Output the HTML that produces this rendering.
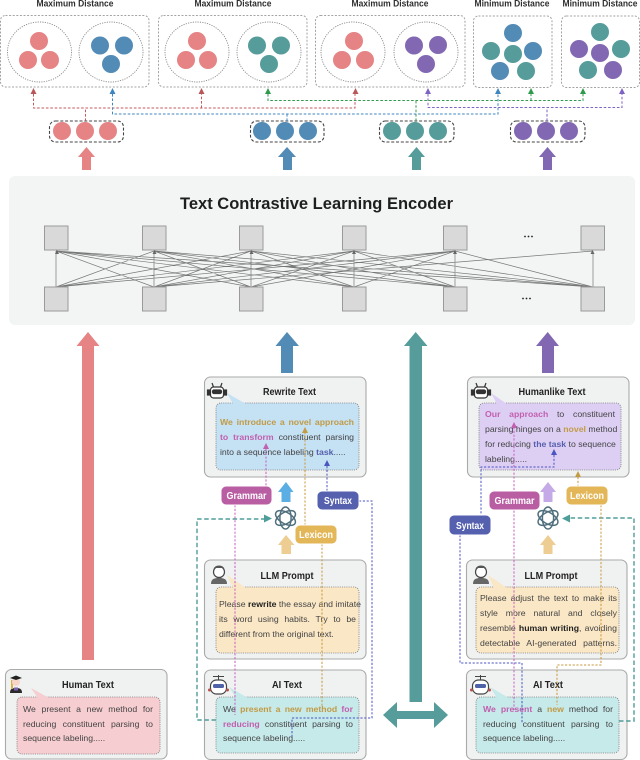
<!DOCTYPE html>
<html><head><meta charset="utf-8">
<style>
html,body{margin:0;padding:0;background:#fff}
#p{position:relative;width:640px;height:760px;overflow:hidden;font-family:"Liberation Sans",sans-serif}
svg{position:absolute;left:0;top:0}
svg text{font-family:"Liberation Sans",sans-serif}
.l{position:absolute;font-size:8.7px;line-height:12px;height:12px;color:#444;white-space:nowrap;text-align:justify;text-align-last:justify}
.n{text-align-last:left}
.g{color:#c29b45;font-weight:bold}.k{color:#c25fae;font-weight:bold}.b{color:#5660ad;font-weight:bold}.d{color:#222;font-weight:bold}
</style></head><body><div id="p">
<svg width="640" height="760" viewBox="0 0 640 760">
<g fill="#fff" stroke="#a3a3a3" stroke-width="1" stroke-dasharray="2 1.6">
<rect x="0.5" y="15.5" width="148.5" height="71.5" rx="5"/>
<rect x="158.5" y="15.5" width="148.5" height="71.5" rx="5"/>
<rect x="315.5" y="15.5" width="149.5" height="71.5" rx="5"/>
<rect x="473.5" y="16" width="78.5" height="71.5" rx="5"/>
<rect x="561.5" y="16" width="78" height="71.5" rx="5"/>
</g>
<g fill="none" stroke="#8a8a8a" stroke-width="0.9" stroke-dasharray="1.2 1.2">
<ellipse cx="39.5" cy="52" rx="32" ry="30"/><ellipse cx="111" cy="52" rx="32" ry="30"/>
<ellipse cx="197" cy="52" rx="32" ry="30"/><ellipse cx="269" cy="52" rx="32" ry="30"/>
<ellipse cx="353" cy="52" rx="32" ry="30"/><ellipse cx="426" cy="52" rx="32" ry="30"/>
</g>
<g fill="#e58385">
<circle cx="39" cy="41" r="9"/><circle cx="28" cy="60" r="9"/><circle cx="50" cy="60" r="9"/>
<circle cx="197" cy="41" r="9"/><circle cx="186" cy="60" r="9"/><circle cx="208" cy="60" r="9"/>
<circle cx="354" cy="41" r="9"/><circle cx="342" cy="60" r="9"/><circle cx="365" cy="60" r="9"/>
<circle cx="62" cy="131" r="9"/><circle cx="85" cy="131" r="9"/><circle cx="108" cy="131" r="9"/>
</g>
<g fill="#528bb6">
<circle cx="100" cy="45.5" r="9"/><circle cx="124" cy="45.5" r="9"/><circle cx="111" cy="64" r="9"/>
<circle cx="513" cy="33" r="9"/><circle cx="533" cy="51" r="9"/><circle cx="500" cy="71" r="9"/>
<circle cx="262" cy="131" r="9"/><circle cx="285" cy="131" r="9"/><circle cx="308" cy="131" r="9"/>
</g>
<g fill="#559c9a">
<circle cx="257" cy="45.5" r="9"/><circle cx="281" cy="45.5" r="9"/><circle cx="269" cy="64" r="9"/>
<circle cx="491" cy="51" r="9"/><circle cx="513" cy="54" r="9"/><circle cx="526" cy="71" r="9"/>
<circle cx="600" cy="32" r="9"/><circle cx="621" cy="49" r="9"/><circle cx="588" cy="70" r="9"/>
<circle cx="392" cy="131" r="9"/><circle cx="415" cy="131" r="9"/><circle cx="438" cy="131" r="9"/>
</g>
<g fill="#8268b2">
<circle cx="414" cy="45.5" r="9"/><circle cx="438" cy="45" r="9"/><circle cx="426" cy="64" r="9"/>
<circle cx="579" cy="49" r="9"/><circle cx="600" cy="53" r="9"/><circle cx="613" cy="70" r="9"/>
<circle cx="523" cy="131" r="9"/><circle cx="546" cy="131" r="9"/><circle cx="569" cy="131" r="9"/>
</g>
<g fill="none" stroke="#444" stroke-width="1.1" stroke-dasharray="3 1.8">
<rect x="49.5" y="121" width="74" height="21" rx="6"/>
<rect x="250.5" y="121" width="73.5" height="21" rx="6"/>
<rect x="379.5" y="121" width="74.5" height="21" rx="6"/>
<rect x="510.5" y="121" width="74.5" height="21" rx="6"/>
</g>
<g font-weight="bold" font-size="9" fill="#2e2e2e" text-anchor="middle">
<text x="75" y="6.5" textLength="77" lengthAdjust="spacingAndGlyphs">Maximum Distance</text>
<text x="233" y="6.5" textLength="77" lengthAdjust="spacingAndGlyphs">Maximum Distance</text>
<text x="390" y="6.5" textLength="77" lengthAdjust="spacingAndGlyphs">Maximum Distance</text>
<text x="512" y="6.5" textLength="75" lengthAdjust="spacingAndGlyphs">Minimum Distance</text>
<text x="600" y="6.5" textLength="75" lengthAdjust="spacingAndGlyphs">Minimum Distance</text>
</g>
<polygon fill="#e58385" points="86.5,147 95,157 91,157 91,170 82,170 82,157 78,157"/>
<polygon fill="#528bb6" points="287,147 296,157 292,157 292,170 283,170 283,157 278,157"/>
<polygon fill="#559c9a" points="416.5,147 425,157 421,157 421,170 412,170 412,157 408,157"/>
<polygon fill="#8268b2" points="547.5,147 556,157 552,157 552,170 543,170 543,157 539,157"/>
<rect x="9" y="176" width="626" height="149" rx="6" fill="#f3f5f5"/>
<text x="316.5" y="209" font-size="17" font-weight="bold" fill="#1e1e1e" text-anchor="middle" textLength="273" lengthAdjust="spacingAndGlyphs">Text Contrastive Learning Encoder</text>
<path fill="none" stroke="#777" stroke-width="0.7" d="M56 287L56 251M56 287L154 251M56 287L251 251M56 287L354 251M56 287L455 251M154 287L56 251M154 287L154 251M154 287L251 251M154 287L354 251M154 287L455 251M154 287L593 251M251 287L56 251M251 287L154 251M251 287L251 251M251 287L354 251M251 287L455 251M354 287L56 251M354 287L154 251M354 287L251 251M354 287L354 251M354 287L455 251M455 287L56 251M455 287L154 251M455 287L251 251M455 287L354 251M455 287L455 251M593 287L56 251M593 287L154 251M593 287L251 251M593 287L354 251M593 287L455 251M593 287L593 251"/>
<g fill="#666">
<polygon points="57,250 59,254 55,254"/><polygon points="154.5,250 156.5,254 152.5,254"/><polygon points="251.5,250 253.5,254 249.5,254"/><polygon points="354,250 356,254 352,254"/><polygon points="455,250 457,254 453,254"/><polygon points="592.5,250 594.5,254 590.5,254"/>
</g>
<g fill="#d9d9d9" stroke="#9a9a9a" stroke-width="1">
<rect x="44.5" y="226" width="23.5" height="24"/><rect x="142.5" y="226" width="23.5" height="24"/><rect x="239.5" y="226" width="23.5" height="24"/><rect x="342.5" y="226" width="23.5" height="24"/><rect x="443.5" y="226" width="23.5" height="24"/><rect x="581" y="226" width="23.5" height="24"/>
<rect x="44.5" y="287" width="23.5" height="24"/><rect x="142.5" y="287" width="23.5" height="24"/><rect x="239.5" y="287" width="23.5" height="24"/><rect x="342.5" y="287" width="23.5" height="24"/><rect x="443.5" y="287" width="23.5" height="24"/><rect x="581" y="287" width="23.5" height="24"/>
</g>
<g fill="#222">
<circle cx="525" cy="236.5" r="0.9"/><circle cx="528.5" cy="236.5" r="0.9"/><circle cx="532" cy="236.5" r="0.9"/>
<circle cx="523" cy="298.5" r="0.9"/><circle cx="526.5" cy="298.5" r="0.9"/><circle cx="530" cy="298.5" r="0.9"/>
</g>
<polygon fill="#e58385" points="88,332 99.5,346 94,346 94,660 82,660 82,346 76.5,346"/>
<polygon fill="#528bb6" points="287,332 299,346 293,346 293,373 281,373 281,346 275.5,346"/>
<polygon fill="#559c9a" points="415.7,332 427.5,346 422,346 422,702 409.5,702 409.5,346 404,346"/>
<polygon fill="#8268b2" points="547.7,332 559,346 554,346 554,373 542,373 542,346 536,346"/>
<polygon fill="#559c9a" points="383,715 397,702 397,711 434,711 434,702 448,715 434,728 434,719 397,719 397,728"/>
<g fill="#f0f1f1" stroke="#aaa" stroke-width="1.1">
<rect x="204.5" y="377" width="161.5" height="100" rx="6"/>
<rect x="204.5" y="560" width="161.5" height="99" rx="6"/>
<rect x="204.5" y="670" width="161.5" height="89.5" rx="6"/>
<rect x="5.5" y="669.5" width="161.5" height="89.5" rx="6"/>
<rect x="467.5" y="377" width="161.5" height="100" rx="6"/>
<rect x="466.5" y="560" width="160.5" height="99" rx="6"/>
<rect x="466.5" y="670" width="160.5" height="89.5" rx="6"/>
</g>
<g stroke="#7f7f7f" stroke-width="0.8" stroke-dasharray="1.1 1.1">
<rect x="216" y="403" width="143" height="67" rx="5" fill="#c5e1f4"/>
<rect x="216" y="587" width="143" height="66" rx="5" fill="#fae7c6"/>
<rect x="216" y="697" width="143" height="56" rx="5" fill="#c6e9ea"/>
<rect x="17" y="697" width="143" height="57" rx="5" fill="#f6cdd0"/>
<rect x="479" y="403" width="142" height="67" rx="5" fill="#ddcff4"/>
<rect x="476" y="587" width="143" height="66" rx="5" fill="#fae7c6"/>
<rect x="476" y="697" width="143" height="56" rx="5" fill="#c6e9ea"/>
</g>
<polygon fill="#c5e1f4" points="227,393 233,404 246,404"/>
<polygon fill="#fae7c6" points="227,575 233,588 246,588"/>
<polygon fill="#c6e9ea" points="229,687 236,698 248,698"/>
<polygon fill="#f6cdd0" points="31,688 38,698 49,698"/>
<polygon fill="#ddcff4" points="491,393 497,404 507,404"/>
<polygon fill="#fae7c6" points="488,575 494,588 507,588"/>
<polygon fill="#c6e9ea" points="490,687 497,698 509,698"/>
<g font-weight="bold" font-size="10.5" fill="#222" text-anchor="middle">
<text x="289.5" y="395" textLength="53" lengthAdjust="spacingAndGlyphs">Rewrite Text</text>
<text x="287" y="579" textLength="53" lengthAdjust="spacingAndGlyphs">LLM Prompt</text>
<text x="287" y="688" textLength="30" lengthAdjust="spacingAndGlyphs">AI Text</text>
<text x="88" y="688" textLength="52" lengthAdjust="spacingAndGlyphs">Human Text</text>
<text x="552" y="395" textLength="67" lengthAdjust="spacingAndGlyphs">Humanlike Text</text>
<text x="551" y="579" textLength="53" lengthAdjust="spacingAndGlyphs">LLM Prompt</text>
<text x="548" y="688" textLength="30" lengthAdjust="spacingAndGlyphs">AI Text</text>
</g>
</svg>

<div class="l" style="left:220px;top:416px;width:134px"><span class="g">We</span> <span class="g">introduce</span> <span class="g">a</span> <span class="g">novel</span> <span class="g">approach</span></div>
<div class="l" style="left:220px;top:431px;width:134px"><span class="k">to transform</span> constituent parsing</div>
<div class="l n" style="left:220px;top:446px">into a sequence labeling <span class="b">task</span>.....</div>

<div class="l" style="left:219px;top:598px;width:137px">Please <span class="d">rewrite</span> the essay and imitate</div>
<div class="l" style="left:219px;top:613px;width:137px">its word using habits. Try to be</div>
<div class="l n" style="left:219px;top:628px">different from the original text.</div>

<div class="l" style="left:223px;top:703px;width:130px">We <span class="g">present a new method</span> <span class="k">for</span></div>
<div class="l" style="left:223px;top:718px;width:130px"><span class="k">reducing</span> constituent parsing to</div>
<div class="l n" style="left:223px;top:732px">sequence labeling.....</div>

<div class="l" style="left:23px;top:703px;width:130px">We present a new method for</div>
<div class="l" style="left:23px;top:718px;width:130px">reducing constituent parsing to</div>
<div class="l n" style="left:23px;top:732px">sequence labeling.....</div>

<div class="l" style="left:485px;top:408px;width:130px"><span class="k">Our approach</span> to constituent</div>
<div class="l" style="left:485px;top:423px;width:130px">parsing hinges on a <span class="g">novel</span> method</div>
<div class="l" style="left:485px;top:438px;width:130px">for reducing <span class="b">the task</span> to sequence</div>
<div class="l n" style="left:485px;top:453px">labeling.....</div>

<div class="l" style="left:480px;top:592px;width:137px">Please adjust the text to make its</div>
<div class="l" style="left:480px;top:607px;width:137px">style more natural and closely</div>
<div class="l" style="left:480px;top:622px;width:137px">resemble <span class="d">human writing</span>, avoiding</div>
<div class="l" style="left:480px;top:637px;width:137px">detectable AI-generated patterns.</div>

<div class="l" style="left:483px;top:703px;width:130px"><span class="k">We present</span> a <span class="g">new</span> method for</div>
<div class="l" style="left:483px;top:718px;width:130px">reducing constituent parsing to</div>
<div class="l n" style="left:483px;top:732px">sequence labeling.....</div>

<svg width="640" height="760" viewBox="0 0 640 760">
<g fill="none" stroke-width="1" stroke-dasharray="2.6 1.8">
<path stroke="#c2595c" d="M85.5 121V108M33.5 94V108H355V94M201.5 108V94"/>
<path stroke="#3f86c0" d="M287 121V114M112.5 94V114H498V94"/>
<path stroke="#2f9a4a" d="M416 121V100.5M268 94V100.5H583V94M531 100.5V94"/>
<path stroke="#7e63c4" d="M547 121V107.5M428 94V107.5H622V94"/>
</g>
<polygon fill="#b9565a" points="33.5,88 36.5,94 30.5,94"/><polygon fill="#b9565a" points="201.5,88 204.5,94 198.5,94"/><polygon fill="#b9565a" points="355.5,88 358.5,94 352.5,94"/>
<polygon fill="#3f86c0" points="112.5,88 115.5,94 109.5,94"/><polygon fill="#3f86c0" points="498,88 501,94 495,94"/>
<polygon fill="#2f9a4a" points="268,88 271,94 265,94"/><polygon fill="#2f9a4a" points="531,88 534,94 528,94"/><polygon fill="#2f9a4a" points="583,88 586,94 580,94"/>
<polygon fill="#7e63c4" points="428,88 431,94 425,94"/><polygon fill="#7e63c4" points="622,88 625,94 619,94"/>

<g fill="none" stroke="#4f9d9a" stroke-width="1.4" stroke-dasharray="4.5 2.6">
<path d="M216 720H197V519H266"/>
<path d="M619 721H634V518H568"/>
</g>
<polygon fill="#4f9d9a" points="272,518.5 264,514.5 264,522.5"/>
<polygon fill="#4f9d9a" points="562,518.5 570,514.5 570,522.5"/>

<g fill="none" stroke="#c75fbe" stroke-width="1" stroke-dasharray="2.2 1.6">
<path d="M266 449V486M235 505V715"/>
<path d="M514 427V710"/>
</g>
<polygon fill="#c25fae" points="266,443 269,449 263,449"/><polygon fill="#c25fae" points="514,422 517,428 511,428"/>
<g fill="none" stroke="#c89a3e" stroke-width="1" stroke-dasharray="2.2 1.6">
<path d="M305 432V525M322 544V707"/>
<path d="M578 477V486M601 505V665H557V705"/>
</g>
<polygon fill="#c29b45" points="305,427 308,433 302,433"/><polygon fill="#c29b45" points="578,471 581,477 575,477"/>
<g fill="none" stroke="#4b55c0" stroke-width="1" stroke-dasharray="2.2 1.6">
<path d="M327 466V491M359 501H372V718H292V737"/>
<path d="M554 455V467H481V515M460 535V663H522V723"/>
</g>
<polygon fill="#4b55c0" points="327,460 330,466 324,466"/><polygon fill="#4b55c0" points="554,449 557,455 551,455"/>

<polygon fill="#5aaee3" points="286,482 293.5,492 290.5,492 290.5,502 281.5,502 281.5,492 278,492"/>
<polygon fill="#edcd91" points="286,535 294.5,545 291,545 291,554 281.5,554 281.5,545 278,545"/>
<polygon fill="#c4abe8" points="548,482 556,492 552.5,492 552.5,502 543.5,502 543.5,492 540,492"/>
<polygon fill="#edcd91" points="548,535 556,545 552.5,545 552.5,554 543.5,554 543.5,545 540,545"/>

<g fill="none" stroke="#4f6f7d" stroke-width="1.5">
<g transform="translate(285.5 518)"><ellipse rx="11" ry="5.6" transform="rotate(30)"/><ellipse rx="11" ry="5.6" transform="rotate(90)"/><ellipse rx="11" ry="5.6" transform="rotate(150)"/></g>
<g transform="translate(548 518)"><ellipse rx="11" ry="5.6" transform="rotate(30)"/><ellipse rx="11" ry="5.6" transform="rotate(90)"/><ellipse rx="11" ry="5.6" transform="rotate(150)"/></g>
</g>

<g stroke="#fff" stroke-width="1">
<rect x="221" y="486" width="51" height="19" rx="5" fill="#b95ea3"/>
<rect x="317" y="491" width="42" height="19" rx="5" fill="#5561af"/>
<rect x="295" y="525" width="42" height="19" rx="5" fill="#e3b657"/>
<rect x="489" y="491" width="51" height="19" rx="5" fill="#b95ea3"/>
<rect x="449" y="515" width="42" height="20" rx="5" fill="#5561af"/>
<rect x="566" y="486" width="42" height="19" rx="5" fill="#e3b657"/>
</g>
<g font-weight="bold" font-size="10" fill="#fff" text-anchor="middle">
<text x="246.5" y="499" textLength="40" lengthAdjust="spacingAndGlyphs">Grammar</text>
<text x="338" y="504" textLength="28" lengthAdjust="spacingAndGlyphs">Syntax</text>
<text x="316" y="538" textLength="34" lengthAdjust="spacingAndGlyphs">Lexicon</text>
<text x="514.5" y="504" textLength="40" lengthAdjust="spacingAndGlyphs">Grammar</text>
<text x="470" y="529" textLength="28" lengthAdjust="spacingAndGlyphs">Syntax</text>
<text x="587" y="499" textLength="34" lengthAdjust="spacingAndGlyphs">Lexicon</text>
</g>

<g fill="#fff" stroke="#333" stroke-width="1.2">
<path d="M212 383L213.5 387M222 383L220.5 387" fill="none"/>
<rect x="210.5" y="387" width="13" height="11" rx="3"/>
<rect x="207.5" y="390" width="2" height="5" fill="#333"/><rect x="224.500" y="390" width="2" height="5" fill="#333"/>
<rect x="212.5" y="390" width="9" height="3.5" rx="1.5" fill="#333"/>
</g>
<g fill="#fff" stroke="#333" stroke-width="1.2">
<path d="M476 383L477.500 387M486 383L484.500 387" fill="none"/>
<rect x="474.5" y="387" width="13" height="11" rx="3"/>
<rect x="471.5" y="390" width="2" height="5" fill="#333"/><rect x="488.500" y="390" width="2" height="5" fill="#333"/>
<rect x="476.500" y="390" width="9" height="3.500" rx="1.500" fill="#333"/>
</g>
<g>
<path d="M211 584c0-5 3-6 8-6s8 1 8 6z" fill="#666"/>
<circle cx="219" cy="572" r="5.500" fill="#fff" stroke="#444" stroke-width="1.2"/>
<path d="M213.500 570c0-6 11-6 11 0l-2-2h-7z" fill="#555"/>
<path d="M473 584c0-5 3-6 8-6s8 1 8 6z" fill="#666"/>
<circle cx="481" cy="572" r="5.500" fill="#fff" stroke="#444" stroke-width="1.2"/>
<path d="M475.500 570c0-6 11-6 11 0l-2-2h-7z" fill="#555"/>
</g>
<g>
<rect x="210.500" y="680" width="16" height="14" rx="6" fill="#fff" stroke="#444" stroke-width="1.2"/>
<rect x="213" y="684" width="11" height="4" rx="1.500" fill="#4f62a8"/>
<path d="M213 676.500h11M218.500 675v5" stroke="#444" stroke-width="1" fill="none"/>
<circle cx="209.500" cy="690" r="1.500" fill="#b5514e"/><circle cx="227.500" cy="690" r="1.500" fill="#b5514e"/>
<rect x="472.500" y="680" width="16" height="14" rx="6" fill="#fff" stroke="#444" stroke-width="1.2"/>
<rect x="475" y="684" width="11" height="4" rx="1.500" fill="#4f62a8"/>
<path d="M475 676.500h11M480.500 675v5" stroke="#444" stroke-width="1" fill="none"/>
<circle cx="471.500" cy="690" r="1.500" fill="#b5514e"/><circle cx="489.500" cy="690" r="1.500" fill="#b5514e"/>
</g>
<g>
<path d="M10 693c0-4 2-5 6-5s6 1 6 5z" fill="#2b2b2b"/>
<rect x="11" y="680" width="2" height="9" fill="#d8b24c"/>
<circle cx="16" cy="682" r="4" fill="#f6d5c8"/>
<path d="M10 678l6-2.500 6 2.500-6 2z" fill="#222"/>
<rect x="14" y="687.500" width="4" height="3" fill="#7d5fb0"/>
</g>
</svg>
</div></body></html>
